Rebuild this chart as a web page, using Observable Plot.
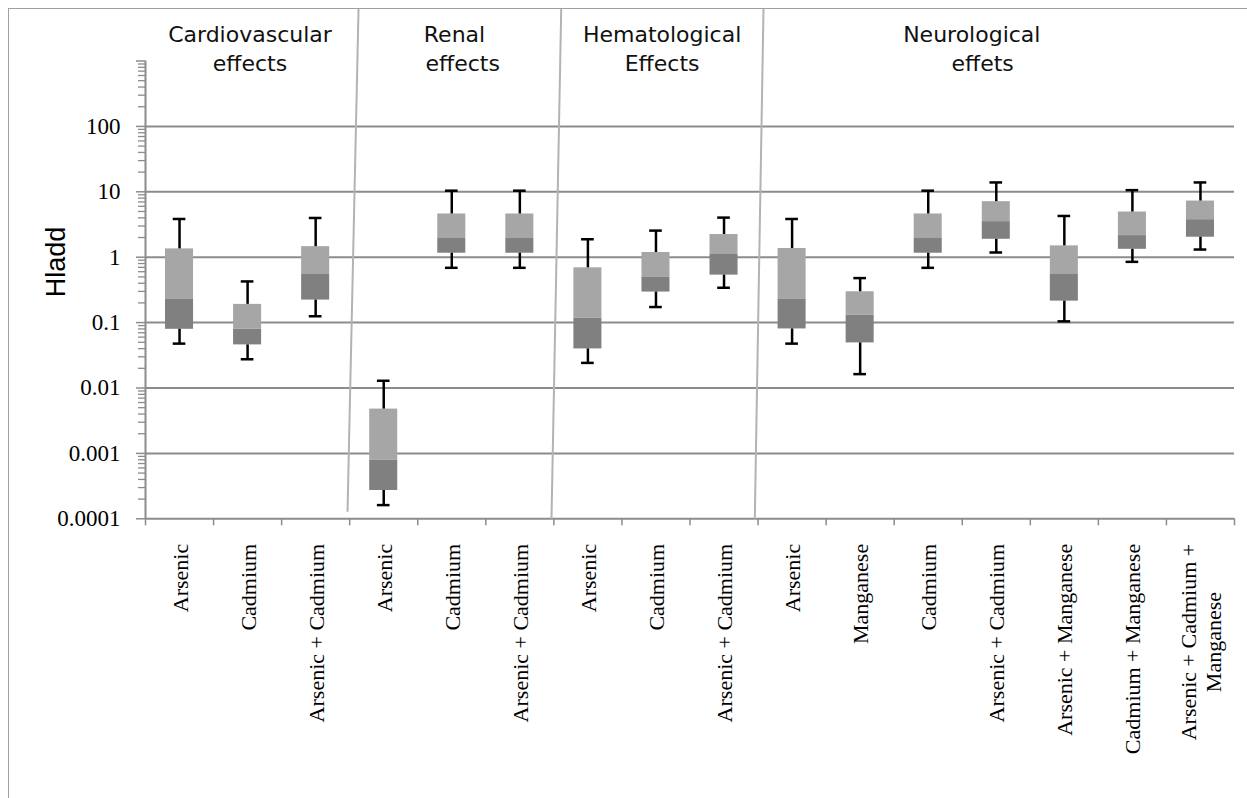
<!DOCTYPE html>
<html>
<head>
<meta charset="utf-8">
<script src="https://cdn.jsdelivr.net/npm/d3@7"></script>
<script src="https://cdn.jsdelivr.net/npm/@observablehq/plot@0.6"></script>
<style>
html, body { margin: 0; padding: 0; overflow: hidden; background: #fff; }
#wrap { position: relative; width: 1247px; height: 798px; overflow: hidden; }
#frame { position: absolute; left: 8px; top: 8px; width: 1300px; height: 900px; border: 1px solid #a0a0a0; box-sizing: border-box; pointer-events: none; }
#chart svg { display: block; background: transparent; }
</style>
</head>
<body>
<div id="wrap"><div id="chart"></div><div id="frame"></div></div>
<script>
// ---- data ----
const categories = [
  "Arsenic", "Cadmium", "Arsenic + Cadmium",
  "Arsenic", "Cadmium", "Arsenic + Cadmium",
  "Arsenic", "Cadmium", "Arsenic + Cadmium",
  "Arsenic", "Manganese", "Cadmium", "Arsenic + Cadmium",
  "Arsenic + Manganese", "Cadmium + Manganese", "Arsenic + Cadmium +\nManganese"
];
const whiskerLow  = [0.0477, 0.0275, 0.125, 0.000162, 0.688, 0.688, 0.0242, 0.173, 0.341, 0.0477, 0.0163, 0.688, 1.18, 0.1045, 0.849, 1.31];
const boxLow      = [0.079, 0.0456, 0.221, 0.000271, 1.15, 1.15, 0.0396, 0.293, 0.532, 0.080, 0.0489, 1.15, 1.88, 0.213, 1.32, 2.02];
const median      = [0.226, 0.079, 0.544, 0.000796, 1.93, 1.93, 0.116, 0.49, 1.10, 0.226, 0.129, 1.93, 3.50, 0.544, 2.14, 3.75];
const boxHigh     = [1.34, 0.190, 1.45, 0.00476, 4.58, 4.58, 0.688, 1.18, 2.22, 1.36, 0.296, 4.58, 7.06, 1.49, 4.91, 7.22];
const whiskerHigh = [3.84, 0.426, 3.98, 0.0129, 10.4, 10.4, 1.88, 2.55, 4.03, 3.84, 0.479, 10.4, 13.9, 4.27, 10.6, 13.9];

const yTickValues = [0.0001, 0.001, 0.01, 0.1, 1, 10, 100];
const yAxisMax = 1000;

// section headings (x in category-slot units), two lines each
const titleLine1 = ["Cardiovascular", "Renal", "Hematological", "Neurological"];
const titleLine1X = [1.535, 4.54, 7.59, 12.14];
const titleLine2 = ["effects", "effects", "Effects", "effets"];
const titleLine2X = [1.535, 4.66, 7.59, 12.30];

// slanted separators between sections (drawn shapes in the original)
const dividerTopX = [3.13, 6.108, 9.08];
const dividerBottomX = [2.968, 5.965, 8.952];
const dividerTopY = [6350, 6350, 6350];
const dividerBottomY = [1.28e-4, 1e-4, 1e-4];

const yLabel = "Hladd";

// ---- build tables ----
const rows = categories.map((c, i) => ({
  i, c, lo: whiskerLow[i], q1: boxLow[i], med: median[i], q3: boxHigh[i], hi: whiskerHigh[i]
}));
const dividers = dividerTopX.map((x, k) => ({x1: x, x2: dividerBottomX[k], y1: dividerTopY[k], y2: dividerBottomY[k]}));
const minorTicks = [];
for (let e = -4; e < 3; ++e) for (let m = 2; m <= 9; ++m) minorTicks.push(m * Math.pow(10, e));

const half = 0.206, cap = 0.093;
const grid = "#8c8c8c";
const serif = "Liberation Serif, Times New Roman, serif";

// measure x labels to centre multi-line blocks like the original
const ctx = document.createElement("canvas").getContext("2d");
const xLabelSize = 22;
ctx.font = `${xLabelSize}px "Liberation Serif"`;
const xLabelMarks = categories.map((c, i) => {
  const w = d3.max(c.split("\n"), (s) => ctx.measureText(s).width);
  return Plot.text([{x: i + 0.5, t: c}], {
    x: "x", text: "t", frameAnchor: "bottom", rotate: -90,
    textAnchor: "middle", lineAnchor: "middle", lineHeight: 1.14,
    dy: 25 + w / 2, fontSize: xLabelSize, fontFamily: serif, fill: "black"
  });
});

const chart = Plot.plot({
  width: 1247,
  height: 798,
  marginLeft: 145,
  marginRight: 13,
  marginTop: 60.5,
  marginBottom: 279.7,
  x: {type: "linear", domain: [0, categories.length], axis: null},
  y: {type: "log", domain: [1e-4, yAxisMax], axis: null, label: null},
  style: {background: "transparent", overflow: "visible"},
  marks: [
    Plot.ruleY(yTickValues, {stroke: grid, strokeWidth: 2}),
    Plot.ruleX([0], {y1: 1e-4, y2: yAxisMax, stroke: grid, strokeWidth: 2}),
    Plot.axisY(minorTicks, {tickSize: 7, fill: "none", stroke: grid, strokeWidth: 1.3, label: null}),
    Plot.axisY([yAxisMax], {tickSize: 9, fill: "none", stroke: grid, strokeWidth: 1.5, label: null}),
    Plot.axisY(yTickValues, {
      tickSize: 9, tickPadding: 16, stroke: grid, strokeWidth: 1.5, fill: "black",
      tickFormat: (d) => String(d), fontSize: 23, fontFamily: serif, label: null
    }),
    Plot.axisX(d3.range(categories.length + 1), {tickSize: 7, fill: "none", stroke: grid, strokeWidth: 1.5, label: null}),
    Plot.link(dividers, {x1: "x1", y1: "y1", x2: "x2", y2: "y2", stroke: "#b3b3b3", strokeWidth: 2}),
    Plot.rect(rows, {x1: (d) => d.i + 0.5 - half, x2: (d) => d.i + 0.5 + half, y1: "q1", y2: "med", fill: "#808080"}),
    Plot.rect(rows, {x1: (d) => d.i + 0.5 - half, x2: (d) => d.i + 0.5 + half, y1: "med", y2: "q3", fill: "#a6a6a6"}),
    Plot.ruleX(rows, {x: (d) => d.i + 0.5, y1: "q3", y2: "hi", stroke: "black", strokeWidth: 2.5}),
    Plot.ruleX(rows, {x: (d) => d.i + 0.5, y1: "lo", y2: "q1", stroke: "black", strokeWidth: 2.5}),
    Plot.ruleY(rows, {y: "hi", x1: (d) => d.i + 0.5 - cap, x2: (d) => d.i + 0.5 + cap, stroke: "black", strokeWidth: 2.5}),
    Plot.ruleY(rows, {y: "lo", x1: (d) => d.i + 0.5 - cap, x2: (d) => d.i + 0.5 + cap, stroke: "black", strokeWidth: 2.5}),
    Plot.text(titleLine1, {x: (d, k) => titleLine1X[k], text: (d) => d, frameAnchor: "top", dy: -18.8,
      textAnchor: "middle", lineAnchor: "bottom", fontSize: 22, fontFamily: "DejaVu Sans", fill: "#111"}),
    Plot.text(titleLine2, {x: (d, k) => titleLine2X[k], text: (d) => d, frameAnchor: "top", dy: 9.5,
      textAnchor: "middle", lineAnchor: "bottom", fontSize: 22, fontFamily: "DejaVu Sans", fill: "#111"}),
    Plot.text([yLabel], {frameAnchor: "left", rotate: -90, dx: -89, dy: -28, textAnchor: "middle",
      lineAnchor: "middle", fontSize: 27, fontFamily: "Liberation Sans, Arial, sans-serif", fill: "black"}),
    ...xLabelMarks
  ]
});
document.getElementById("chart").appendChild(chart);
</script>
</body>
</html>
